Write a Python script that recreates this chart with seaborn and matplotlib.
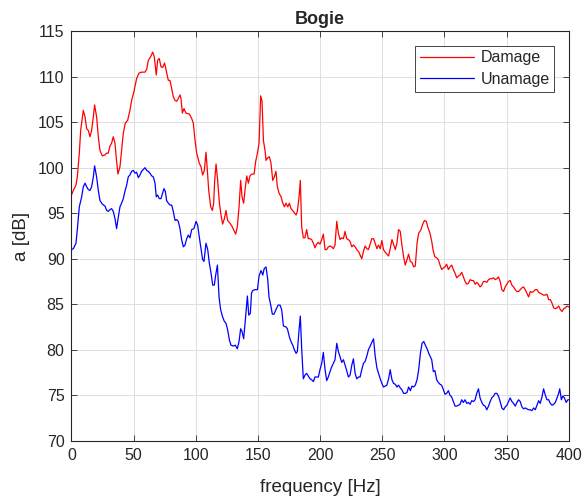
import pandas as pd
import matplotlib
matplotlib.use('Agg')
import matplotlib.pyplot as plt
import seaborn as sns

# values (frequency in Hz, level in dB)
damage_freq = [
    0, 1.5, 3.6, 4.7, 6.3, 7.4, 9.5, 10.9, 12.2, 13.5, 14.9, 16.2, 17.6, 18.6, 20.2, 21.6,
    22.9, 24.8, 26.9, 28.3, 29.6, 31.0, 32.3, 33.6, 35.0, 36.3, 37.4, 39.0, 40.3, 41.7, 43.3,
    45.2, 47.0, 48.4, 50.3, 52.4, 54.3, 56.4, 59.1, 60.5, 61.8, 63.7, 65.3, 66.6, 68.2, 69.3,
    70.6, 72.0, 73.3, 74.9, 76.5, 77.9, 79.2, 80.6, 81.9, 83.3, 84.6, 85.9, 87.3, 88.1, 89.2,
    90.5, 92.1, 94.8, 96.7, 98.0, 99.4, 100.7, 102.8, 104.2, 105.5, 106.9, 108.2, 109.3, 110.4,
    112.0, 113.3, 114.4, 115.2, 116.3, 117.6, 119.0, 120.3, 121.6, 123.0, 124.3, 125.6, 127.5,
    129.4, 130.7, 132.1, 133.4, 134.8, 136.1, 137.2, 138.5, 139.9, 141.0, 142.3, 143.6, 145.0,
    146.9, 148.2, 149.6, 150.9, 151.7, 152.2, 153.3, 154.4, 155.7, 156.5, 157.9, 159.2, 160.5,
    161.9, 163.2, 164.5, 165.6, 167.0, 168.6, 170.0, 171.3, 172.6, 174.0, 175.3, 176.6, 178.5,
    180.7, 181.7, 183.1, 184.1, 185.2, 186.5, 187.8, 189.2, 190.5, 191.9, 193.2, 194.6, 195.9,
    197.2, 198.6, 199.9, 201.3, 202.6, 204.0, 205.3, 206.6, 208.0, 209.3, 210.7, 212.0, 213.4,
    214.7, 216.1, 217.4, 218.8, 220.1, 221.4, 222.8, 224.1, 225.5, 226.8, 228.2, 229.5, 230.9,
    232.2, 233.5, 234.9, 236.2, 237.6, 238.9, 240.3, 241.6, 243.0, 244.3, 245.7, 247.0, 248.4,
    249.7, 251.0, 252.4, 253.7, 255.1, 256.4, 257.8, 259.1, 260.5, 261.8, 263.1, 264.5, 265.8,
    267.2, 268.5, 269.9, 271.2, 272.6, 273.9, 275.3, 276.6, 278.0, 279.3, 281.2, 282.3, 283.9,
    285.5, 286.6, 288.4, 289.8, 291.1, 292.4, 293.8, 295.1, 296.5, 297.8, 299.2, 300.5, 301.8,
    303.2, 304.5, 305.9, 307.2, 308.6, 309.9, 311.3, 312.6, 313.9, 315.3, 316.6, 318.0, 319.3,
    320.7, 322.0, 323.4, 324.7, 326.0, 327.4, 328.7, 330.1, 331.4, 332.8, 334.1, 335.5, 336.8,
    338.1, 339.5, 340.8, 342.2, 343.5, 344.9, 346.2, 347.6, 348.9, 350.3, 351.6, 352.9, 354.3,
    355.6, 357.0, 358.3, 359.7, 361.0, 362.4, 363.7, 365.0, 366.4, 367.7, 369.1, 370.4, 371.8,
    373.1, 374.5, 375.8, 377.1, 378.5, 379.8, 381.2, 382.5, 383.9, 385.2, 386.6, 387.9, 389.2,
    390.6, 391.9, 393.3, 394.6, 396.0, 397.3, 398.7, 400.0,
]
damage_db = [
    97.0, 97.5, 98.1, 99.0, 101.6, 104.1, 106.3, 105.6, 104.3, 104.1, 103.4, 104.1, 105.6, 106.9, 105.6, 103.4,
    101.9, 101.3, 101.4, 101.6, 101.6, 102.4, 102.7, 103.4, 102.7, 100.7, 99.3, 100.1, 101.9, 103.8, 104.9,
    105.2, 106.3, 107.4, 108.4, 109.8, 110.4, 110.5, 110.5, 110.8, 111.8, 112.2, 112.7, 112.2, 110.2, 111.8,
    112.0, 111.1, 111.0, 111.5, 110.5, 109.6, 109.6, 108.7, 107.8, 107.4, 107.3, 107.6, 108.0, 107.6, 106.0,
    106.5, 106.0, 105.9, 105.4, 104.9, 103.0, 101.6, 100.5, 100.1, 99.2, 99.7, 101.7, 99.7, 97.5,
    95.7, 95.3, 96.1, 98.6, 100.4, 98.6, 96.1, 94.8, 93.8, 94.4, 95.3, 94.2, 93.9,
    93.5, 93.1, 92.7, 93.5, 95.7, 98.6, 96.8, 96.1, 97.9, 99.1, 98.3, 99.1, 99.3,
    99.3, 100.7, 101.6, 102.7, 106.0, 107.9, 107.3, 103.0, 101.9, 100.8, 101.1, 101.2, 100.5,
    98.6, 99.0, 99.6, 97.9, 97.2, 96.8, 96.1, 95.7, 96.1, 95.7, 96.1, 95.5, 95.2,
    94.8, 95.2, 96.8, 98.6, 93.5, 92.3, 92.3, 93.2, 92.2, 92.2, 92.1, 91.7, 91.2,
    91.6, 91.8, 91.6, 92.1, 92.7, 91.0, 91.0, 91.3, 91.4, 91.3, 91.1, 91.5, 94.1,
    92.8, 92.1, 92.3, 92.2, 93.0, 92.2, 92.1, 91.9, 91.3, 91.5, 91.3, 91.0, 90.8,
    90.4, 90.0, 90.8, 91.4, 91.1, 91.0, 91.6, 92.2, 92.2, 91.7, 91.1, 91.5, 91.1,
    92.0, 91.0, 90.7, 90.5, 90.3, 91.1, 92.1, 91.6, 91.0, 91.7, 93.2, 93.0, 91.5,
    90.2, 89.3, 89.9, 90.5, 89.7, 89.6, 89.1, 89.2, 91.7, 92.8, 93.2, 93.7, 94.2,
    94.1, 93.5, 92.8, 91.9, 90.8, 90.2, 90.1, 89.9, 89.3, 88.8, 89.0, 89.1, 89.4,
    88.8, 89.1, 89.3, 88.8, 88.4, 87.9, 88.1, 88.2, 88.5, 88.0, 87.5, 87.2, 87.3,
    87.7, 87.6, 87.6, 87.2, 87.4, 87.2, 86.9, 87.1, 87.5, 87.5, 87.4, 87.7, 87.8,
    87.8, 87.9, 87.7, 87.8, 88.0, 87.5, 86.6, 86.4, 86.9, 87.2, 87.5, 87.6, 87.1,
    86.9, 86.6, 86.4, 86.4, 86.6, 86.8, 86.9, 86.6, 86.2, 85.8, 86.4, 86.3, 86.4,
    86.6, 86.6, 86.3, 86.2, 86.1, 86.0, 86.0, 86.1, 85.5, 85.5, 85.1, 84.6, 84.5,
    84.6, 84.8, 84.4, 84.2, 84.5, 84.6, 84.8, 84.7,
]

undamaged_freq = [
    0, 1.5, 3.6, 4.7, 6.3, 8.2, 9.5, 10.9, 12.2, 13.5, 14.9, 16.2, 17.6, 18.6, 20.2, 21.6,
    22.9, 24.3, 25.6, 26.9, 28.3, 29.6, 31.0, 32.3, 33.6, 35.0, 36.3, 37.7, 39.0, 40.3, 41.7,
    43.0, 44.4, 45.7, 47.0, 48.4, 49.7, 51.1, 52.4, 53.8, 55.1, 56.4, 57.8, 59.1, 60.5, 61.8,
    63.1, 64.5, 65.8, 67.2, 68.2, 69.3, 70.6, 72.0, 73.3, 74.4, 75.5, 76.5, 77.9, 79.2, 80.6,
    81.9, 83.3, 84.6, 85.9, 87.3, 88.6, 90.0, 91.3, 92.7, 94.0, 95.3, 96.7, 98.5, 100.2, 101.5,
    102.8, 104.2, 105.5, 106.6, 108.2, 109.6, 110.9, 112.3, 113.6, 114.9, 116.0, 117.4, 118.7,
    120.0, 121.6, 123.0, 124.3, 125.6, 127.0, 128.3, 130.2, 131.8, 133.4, 134.8, 136.1, 137.2,
    138.5, 139.9, 141.5, 142.6, 143.9, 144.8, 145.8, 147.7, 149.6, 150.9, 152.5, 153.9, 155.0,
    156.5, 157.9, 158.9, 160.3, 161.6, 162.9, 164.5, 166.2, 167.8, 169.1, 170.5, 172.6, 173.7,
    175.3, 176.6, 178.0, 179.3, 180.7, 181.7, 183.1, 184.1, 185.2, 186.5, 187.8, 189.2, 190.5,
    191.9, 193.2, 194.6, 195.9, 197.2, 198.6, 199.9, 201.3, 202.6, 204.0, 205.3, 206.6, 208.0,
    209.3, 210.7, 212.0, 213.4, 214.7, 216.1, 217.4, 218.8, 220.1, 221.4, 222.8, 224.1, 225.5,
    226.8, 228.2, 229.5, 230.9, 232.2, 233.5, 234.9, 236.2, 237.6, 238.9, 240.3, 241.6, 243.0,
    244.3, 245.7, 247.0, 248.4, 249.7, 251.0, 252.4, 253.7, 255.1, 256.4, 257.8, 259.1, 260.5,
    261.8, 263.1, 264.5, 265.8, 267.2, 268.5, 269.9, 271.2, 272.6, 273.9, 275.3, 276.6, 278.0,
    279.3, 280.7, 282.0, 283.4, 284.7, 286.1, 287.4, 288.4, 289.8, 291.1, 292.4, 293.8, 295.1,
    296.5, 297.8, 299.2, 300.5, 301.8, 303.2, 304.5, 305.9, 307.2, 308.6, 309.9, 311.3, 312.6,
    313.9, 315.3, 316.6, 318.0, 319.3, 320.7, 322.0, 323.4, 324.7, 326.0, 327.4, 328.7, 330.1,
    331.4, 332.8, 334.1, 335.5, 336.8, 338.1, 339.5, 340.8, 342.2, 343.5, 344.9, 346.2, 347.6,
    348.9, 350.3, 351.6, 352.9, 354.3, 355.6, 357.0, 358.3, 359.7, 361.0, 362.4, 363.7, 365.0,
    366.4, 367.7, 369.1, 370.4, 371.8, 373.1, 374.5, 375.8, 377.1, 378.5, 379.8, 381.2, 382.5,
    383.9, 385.2, 386.6, 387.9, 389.2, 390.6, 391.9, 392.8, 394.1, 395.2, 396.6, 398.0, 399.3,
    400.0,
]
undamaged_db = [
    91.0, 91.1, 91.7, 93.2, 95.7, 96.8, 97.9, 98.3, 97.9, 97.6, 97.5, 97.9, 99.0, 100.2, 99.0, 97.5,
    96.4, 96.1, 95.9, 95.8, 95.3, 95.2, 95.4, 95.5, 95.2, 94.4, 93.3, 94.6, 95.7, 96.1, 96.6,
    97.4, 98.1, 99.0, 99.2, 99.6, 99.7, 99.4, 99.5, 98.9, 99.2, 99.6, 99.8, 100.0, 99.7, 99.6,
    99.4, 99.1, 99.0, 98.3, 96.8, 97.0, 96.6, 96.6, 97.2, 97.7, 97.4, 96.4, 96.1, 95.9, 95.9,
    95.2, 94.2, 94.3, 94.1, 93.3, 92.1, 91.3, 91.5, 92.2, 92.6, 92.3, 93.2, 93.3, 94.1, 93.7,
    92.4, 91.1, 89.9, 89.7, 91.7, 91.0, 89.5, 88.4, 87.1, 87.1, 88.2, 89.3, 85.8,
    84.4, 83.6, 83.1, 82.9, 82.2, 81.1, 80.5, 80.4, 80.5, 80.1, 80.9, 82.3, 82.0,
    81.2, 83.3, 85.9, 83.8, 84.0, 86.2, 86.5, 86.6, 86.6, 88.1, 88.7, 88.2, 88.9,
    89.1, 87.7, 85.8, 84.9, 83.9, 83.9, 84.4, 84.9, 84.9, 84.4, 82.6, 82.5, 82.3,
    81.4, 80.9, 80.5, 80.0, 79.6, 79.8, 82.2, 83.7, 80.1, 76.8, 77.2, 77.4, 77.1,
    76.8, 76.7, 76.5, 77.0, 77.0, 77.0, 77.8, 78.5, 79.7, 77.8, 76.6, 77.0, 77.6,
    78.1, 78.5, 78.9, 80.7, 79.8, 79.2, 78.6, 78.9, 78.3, 77.7, 77.0, 77.2, 78.3,
    79.0, 77.4, 76.8, 77.0, 77.0, 77.8, 78.5, 78.7, 79.3, 80.0, 80.4, 80.8, 81.2,
    79.3, 78.0, 77.4, 76.8, 76.3, 75.9, 76.0, 76.1, 76.8, 77.8, 76.7, 76.3, 76.2,
    75.9, 76.1, 75.8, 75.6, 75.2, 75.2, 75.3, 75.9, 75.5, 76.0, 75.9, 76.1, 76.7,
    77.8, 79.6, 80.7, 80.9, 80.5, 80.1, 79.6, 79.3, 78.9, 77.6, 77.7, 76.7, 76.4,
    76.2, 76.1, 75.6, 75.1, 75.2, 75.5, 75.0, 74.8, 74.3, 73.8, 73.8, 73.9, 74.0,
    74.5, 74.2, 74.5, 74.1, 74.2, 74.0, 74.4, 74.3, 74.5, 75.2, 75.7, 74.7, 74.2,
    73.9, 73.8, 73.4, 73.8, 74.3, 74.7, 74.9, 75.2, 75.2, 74.9, 74.3, 73.6, 73.4,
    73.7, 73.9, 74.3, 74.7, 74.3, 74.1, 73.8, 74.2, 74.5, 74.3, 73.7, 73.5, 73.6,
    73.5, 73.4, 73.4, 73.3, 73.6, 73.4, 73.9, 74.4, 74.1, 74.8, 75.7, 75.0, 74.5,
    74.5, 74.1, 73.9, 74.0, 74.2, 74.7, 75.2, 75.7, 74.5, 74.9, 74.7, 74.2, 74.5,
    74.5,
]

series_names = ["Damage", "Unamage"]
series_colors = ["#ff0000", "#0000ff"]

df = pd.concat([
    pd.DataFrame({"freq": damage_freq, "db": damage_db, "series": series_names[0]}),
    pd.DataFrame({"freq": undamaged_freq, "db": undamaged_db, "series": series_names[1]}),
])

sns.set_style("white")
plt.rcParams['font.family'] = ['Liberation Sans', 'DejaVu Sans']
ink = "#262626"

fig = plt.figure(figsize=(5.84, 5.0), dpi=100)
ax = fig.add_axes([0.1224, 0.1186, 0.8514, 0.819])

sns.lineplot(data=df, x="freq", y="db", hue="series", hue_order=series_names,
             palette=series_colors, estimator=None, sort=False, linewidth=0.9, ax=ax)

ax.set_xlim(0, 400)
ax.set_ylim(70, 115)
ax.set_xticks(range(0, 401, 50))
ax.set_yticks(range(70, 116, 5))
ax.grid(True, color="#dedede", linewidth=0.7)
ax.set_axisbelow(True)
for s in ax.spines.values():
    s.set_visible(True)
    s.set_color(ink)
    s.set_linewidth(0.8)
ax.tick_params(direction="in", length=4, width=0.6, colors=ink, labelsize=11.5,
               top=True, right=True, bottom=True, left=True, pad=5)

ax.set_xlabel("frequency [Hz]", fontsize=13.5, color=ink, labelpad=12)
ax.set_ylabel("a [dB]", fontsize=13.5, color=ink, labelpad=6)
ax.set_title("Bogie", fontsize=13, fontweight="bold", pad=5)

leg = ax.legend(loc="upper right", fontsize=11.5, frameon=True, fancybox=False,
                framealpha=1, edgecolor=ink, handlelength=3.4, handletextpad=0.4,
                borderaxespad=0.9, borderpad=0.3, labelspacing=0.4)
leg.get_frame().set_linewidth(0.6)
for ln in leg.get_lines():
    ln.set_linewidth(0.9)

fig.savefig("out.png", dpi=100)
